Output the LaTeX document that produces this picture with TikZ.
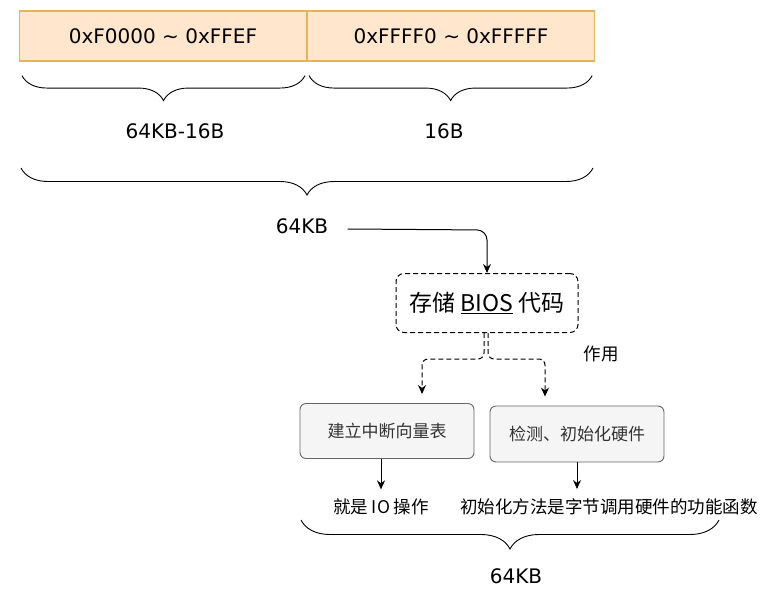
\documentclass[tikz,border=0pt]{standalone}
\usepackage{fontspec}
\setmainfont{DejaVu Sans}
\newfontfamily\cjk{Noto Sans CJK SC}
\usetikzlibrary{positioning,calc,arrows.meta,decorations.pathreplacing}

\definecolor{addrfill}{HTML}{FFE6CC}
\definecolor{addrline}{HTML}{E3B45A}
\definecolor{funcfill}{HTML}{F5F5F5}
\definecolor{funcline}{HTML}{666666}

\begin{document}
\begin{tikzpicture}[x=1pt,y=-1pt,
	addr/.style={rectangle,draw=addrline,fill=addrfill,line width=1.1pt,minimum width=287pt,minimum height=50pt,inner sep=0pt,font=\fontsize{20}{24}\selectfont},
	func/.style={rectangle,rounded corners=6pt,draw=funcline,fill=funcfill,line width=0.9pt,minimum width=174pt,minimum height=55pt,text=black!80,font=\cjk\fontsize{17}{20}\selectfont},
	bios/.style={rectangle,rounded corners=8pt,draw,dash pattern=on 5pt off 3pt,line width=1pt,minimum width=182pt,minimum height=59pt,font=\cjk\fontsize{23}{27}\selectfont},
	brace/.style={decorate,decoration={brace,mirror,amplitude=#1},line width=0.9pt},
	lbl/.style={font=\fontsize{20}{24}\selectfont},
	note/.style={font=\cjk\fontsize{17.5}{21}\selectfont},
	arr/.style={-{Stealth[length=9pt,width=8pt]},line width=1pt},
	darr/.style={arr,dash pattern=on 5pt off 3pt,rounded corners=6pt}]
	\useasboundingbox (0,0) rectangle (761,595);

	% address ranges
	\node[addr] (lo) at (163,36) {0xF0000 \textasciitilde{} 0xFFEF};
	\node[addr] (hi) [right=0pt of lo] {0xFFFF0 \textasciitilde{} 0xFFFFF};

	\draw[brace=25pt] ($(lo.south west)+(3,14)$) -- ($(lo.south east)+(-2,14)$);
	\draw[brace=25pt] ($(hi.south west)+(2,14)$) -- ($(hi.south east)+(-3,14)$);
	\node[lbl] (losize) at (175,131) {64KB-16B};
	\node[lbl] (hisize) at (444,131) {16B};

	\draw[brace=27pt] (21,168) -- (593,168);
	\node[lbl] (total) at (302,226) {64KB};

	% BIOS block
	\node[bios] (bios) at (487,303) {存储 \underline{BIOS} 代码};
	\draw[arr,rounded corners=10pt] ([xshift=16pt,yshift=-3pt]total.east) -- (bios.north |- 0,230) -- (bios.north);

	\node[note] (use) at (601,354) {作用};

	\node[func] (idt) at (387,431) {建立中断向量表};
	\node[func,minimum height=56pt] (chk) at (577,434) {检测、初始化硬件};

	\draw[darr] ([xshift=-3pt]bios.south) -- ++(0,26) -| ([xshift=35pt,yshift=9pt]idt.north);
	\draw[darr] ([xshift=1pt]bios.south) -- ++(0,26) -| ([xshift=-32pt,yshift=9pt]chk.north);

	\node[note] (io) at (381,507) {就是 IO 操作};
	\node[note] (fn) at (609,507) {初始化方法是字节调用硬件的功能函数};

	\draw[arr] (io.north |- idt.south) -- ([yshift=6pt]io.north);
	\draw[arr] (chk.south) -- (chk.south |- 0,489);

	\draw[brace=29pt] (301,520) -- (719,520);
	\node[lbl] (bottom) at (516,576) {64KB};
\end{tikzpicture}
\end{document}
